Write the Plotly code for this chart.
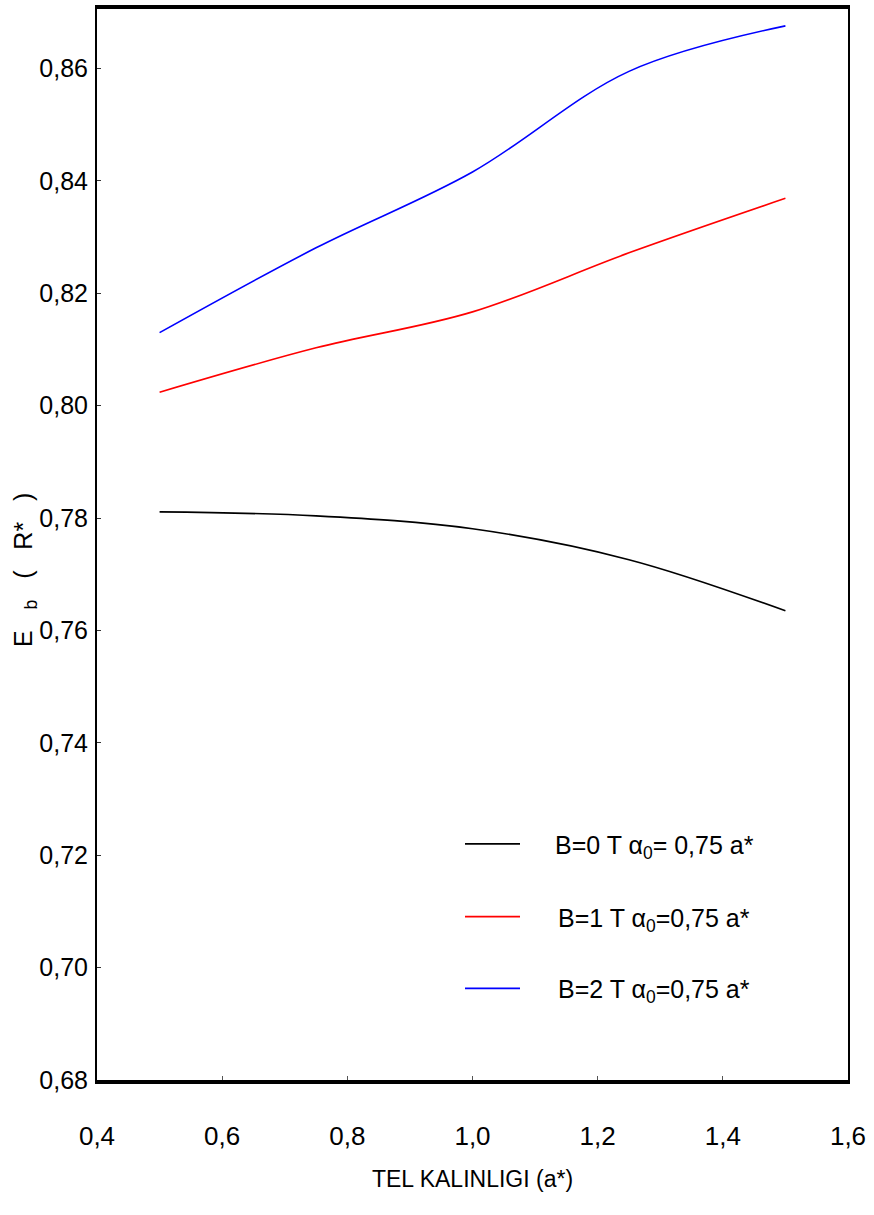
import plotly.graph_objects as go

# Data
thickness = [0.5, 0.75, 1.0, 1.25, 1.5]
eb_B0 = [0.7811, 0.7804, 0.7781, 0.7726, 0.7635]
eb_B1 = [0.8024, 0.8103, 0.8167, 0.8272, 0.8369]
eb_B2 = [0.8130, 0.8281, 0.8416, 0.8595, 0.8676]

series_names = ["B=0 T α<sub>0</sub>= 0,75 a*",
                "B=1 T α<sub>0</sub>=0,75 a*",
                "B=2 T α<sub>0</sub>=0,75 a*"]
series_colors = ["#000000", "#ff0000", "#0000ff"]

x_ticks = [0.4, 0.6, 0.8, 1.0, 1.2, 1.4, 1.6]
x_ticktext = ["0,4", "0,6", "0,8", "1,0", "1,2", "1,4", "1,6"]
y_ticks = [0.68, 0.70, 0.72, 0.74, 0.76, 0.78, 0.80, 0.82, 0.84, 0.86]
y_ticktext = ["0,68", "0,70", "0,72", "0,74", "0,76", "0,78", "0,80", "0,82", "0,84", "0,86"]

FONT = "Liberation Sans, Arial, sans-serif"

W, H = 874, 1215
L, R, T, B = 97, 26, 5, 135
pw, ph = W - L - R, H - T - B

fig = go.Figure()
for ys, name, col in zip([eb_B0, eb_B1, eb_B2], series_names, series_colors):
    fig.add_trace(go.Scatter(x=thickness, y=ys, mode="lines", name=name,
                             line=dict(color=col, width=1.6, shape="spline", smoothing=1.0),
                             showlegend=False))

# legend drawn manually
leg_y_px = [843, 916, 988]
text_x_px = [553, 556, 556]
for ypx, name, col, tx in zip(leg_y_px, series_names, series_colors, text_x_px):
    yp = (H - B - ypx) / ph
    fig.add_shape(type="line", xref="paper", yref="paper",
                  x0=(465 - L) / pw, x1=(520 - L) / pw, y0=yp, y1=yp,
                  line=dict(color=col, width=1.6))
    fig.add_annotation(xref="paper", yref="paper", x=(tx - L) / pw, y=(H - B - ypx - 3) / ph,
                       xanchor="left", yanchor="middle", showarrow=False, text=name,
                       font=dict(family=FONT, size=25, color="#000000"))

# y axis title
nb = "\u00a0"
fig.add_annotation(xref="paper", yref="paper", x=(25 - L) / pw, y=(H - B - 568) / ph,
                   xanchor="center", yanchor="middle", showarrow=False, textangle=-90,
                   text="E" + nb * 3 + "<sub>b</sub>" + nb * 3 + "(" + nb * 3 + "R*" + nb * 3 + ")",
                   font=dict(family=FONT, size=25, color="#000000"))

fig.update_layout(
    width=W, height=H,
    margin=dict(l=L, r=R, t=T, b=B),
    paper_bgcolor="white", plot_bgcolor="white",
    xaxis=dict(range=[0.4, 1.6], tickvals=x_ticks, ticktext=x_ticktext,
               showgrid=False, zeroline=False,
               showline=True, linecolor="black", linewidth=4, mirror=True,
               ticks="inside", ticklen=4, tickcolor="#555555",
               ticklabelstandoff=30,
               tickfont=dict(family=FONT, size=26, color="#000000"),
               title=dict(text="TEL KALINLIGI (a*)", standoff=22,
                          font=dict(family=FONT, size=23, color="#000000"))),
    yaxis=dict(range=[0.68, 0.8706], tickvals=y_ticks, ticktext=y_ticktext,
               showgrid=False, zeroline=False,
               showline=True, linecolor="black", linewidth=2, mirror=True,
               ticks="inside", ticklen=4, tickcolor="#333333",
               ticklabelstandoff=2,
               tickfont=dict(family=FONT, size=25, color="#000000")),
)

fig.write_html("out.html")
